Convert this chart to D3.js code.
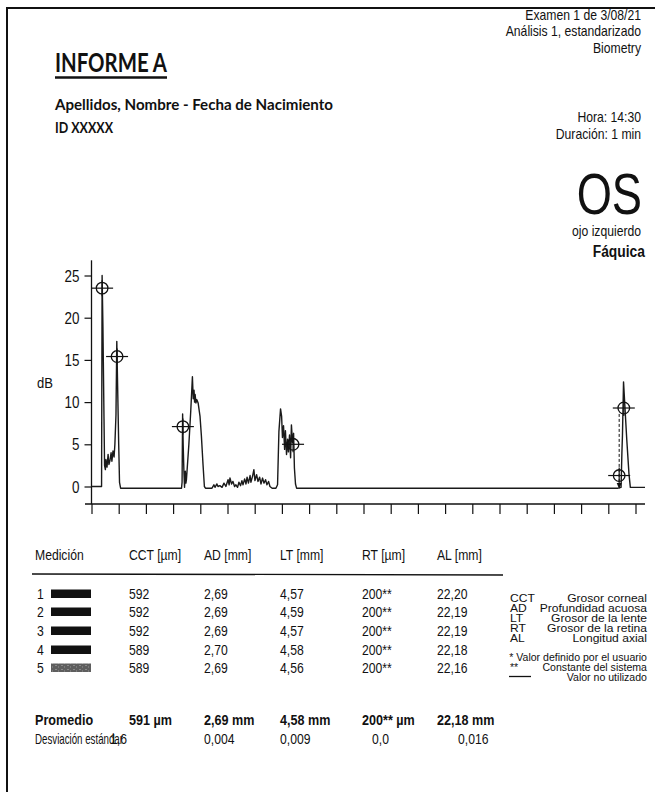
<!DOCTYPE html>
<html>
<head>
<meta charset="utf-8">
<script src="https://cdn.jsdelivr.net/npm/d3@7"></script>
<style>
  html, body { margin: 0; padding: 0; background: #fff; }
  svg { display: block; }
</style>
</head>
<body>
<svg id="report" width="655" height="792"></svg>
<script>
// ---- A-scan echo trace: position in axis divisions, amplitude in dB ----
const scanPos = [
  0.00, 0.37, 0.39, 0.42, 0.46, 0.48, 0.51, 0.53, 0.57, 0.61, 0.64, 0.68, 0.72, 0.75, 0.79, 0.83, 0.86, 0.90, 0.93, 0.96, 1.00, 1.03, 1.07,
  3.31, 3.33, 3.35, 3.37, 3.40, 3.42, 3.45, 3.47, 3.49, 3.58, 3.65, 3.71, 3.74, 3.77, 3.79, 3.81, 3.84, 3.87, 3.92, 3.99, 4.04, 4.10, 4.15, 4.19,
  4.43, 4.50, 4.54, 4.61, 4.65, 4.72, 4.80, 4.87, 4.94, 5.02, 5.06, 5.09, 5.15, 5.20, 5.26, 5.31, 5.37, 5.42, 5.48, 5.53, 5.57, 5.63, 5.68,
  5.72, 5.77, 5.83, 5.86, 5.92, 5.97, 6.01, 6.07, 6.12, 6.18, 6.23, 6.29, 6.34, 6.40, 6.45, 6.51, 6.56, 6.64, 6.78,
  6.84, 6.89, 6.95, 6.99, 7.02, 7.06, 7.10, 7.13, 7.17, 7.21, 7.24, 7.28, 7.32, 7.35, 7.39, 7.43, 7.46, 7.50, 7.54,
  19.36, 19.47, 19.50, 19.52, 19.56, 19.61, 19.68, 19.76, 19.81, 20.35
];
const scanDb = [
  0, 0, 25.0, 19, 8, 2.5, 2.0, 3.2, 2.3, 3.8, 2.6, 3.1, 4.0, 3.0, 4.2, 3.5, 5.0, 8.5, 17.2, 12, 5, 0.5, -0.2,
  -0.2, 0.5, 8.6, 5, 1.5, -0.1, 1.8, 0.4, 0.8, 5.0, 9.0, 13.0, 10.4, 11.4, 10.0, 10.9, 9.9, 10.3, 9.9, 8.3, 6.0, 2.6, 0, -0.2,
  -0.2, 0.2, -0.1, 0.3, 0.0, 0.1, -0.1, 0.4, 0.0, 0.8, 0.2, 1.0, 0.3, 0.6, 0.0, 0.2, -0.1, 0.5, 0.1, 0.7, 0.2, 0.9, 0.3,
  1.1, 0.4, 1.3, 0.5, 1.2, 2.0, 0.7, 1.4, 0.6, 1.1, 0.3, 1.0, 0.4, 0.8, 0.2, 0.6, 0.0, -0.2, -0.2,
  0.2, 6.5, 9.2, 8.3, 5.8, 7.2, 4.4, 6.6, 3.8, 5.6, 4.1, 6.1, 3.4, 7.3, 5.2, 6.3, 2.2, 0.3, -0.2,
  -0.2, -0.1, 4, 6, 12.4, 9.5, 5.5, 1.5, -0.1, -0.1
];

// ---- Gate markers (cornea, cornea back, lens front, lens back, retina, retina gate) ----
const gatePos = [0.39, 0.94, 3.36, 7.41, 19.57, 19.40];
const gateDb  = [23.5, 15.4, 7.1, 5.0, 9.3, 1.3];
const dashedGatePos = 19.40;
const dashedGateTop = 8.6;

// ---- Axes ----
const yTicks = [0, 5, 10, 15, 20, 25];
const xTicks = [0, 1, 2, 3, 4, 5, 6, 7, 8, 9, 10, 11, 12, 13, 14, 15, 16, 17, 18, 19, 20];

// ---- Measurement table ----
const measurementIds = [1, 2, 3, 4, 5];
const cctValues = [592, 592, 592, 589, 589];
const adValues  = [2.69, 2.69, 2.69, 2.70, 2.69];
const ltValues  = [4.57, 4.59, 4.57, 4.58, 4.56];
const rtValues  = [200, 200, 200, 200, 200];
const alValues  = [22.20, 22.19, 22.19, 22.18, 22.16];
const columnHeaders = ["Medición", "CCT [µm]", "AD [mm]", "LT [mm]", "RT [µm]", "AL [mm]"];
const meanValues = [591, 2.69, 4.58, 200, 22.18];
const meanUnits  = ["µm", "mm", "mm", "µm", "mm"];
const sdValues   = [1.6, 0.004, 0.009, 0.0, 0.016];

// ---- Legend ----
const legendAbbr = ["CCT", "AD", "LT", "RT", "AL"];
const legendDesc = ["Grosor corneal", "Profundidad acuosa", "Grosor de la lente", "Grosor de la retina", "Longitud axial"];

// ---- Header ----
const examLines = ["Examen 1 de 3/08/21", "Análisis 1, estandarizado", "Biometry"];
const timeLines = ["Hora: 14:30", "Duración: 1 min"];

// ---------------------------------------------------------------------------
const svg = d3.select("#report");
const ARIAL = "'Liberation Sans', Arial, Helvetica, sans-serif";
const NARROW = 0.84;
const INK = "#111";

const es = d3.formatLocale({ decimal: ",", thousands: ".", grouping: [3], currency: ["", "€"] });
const f0 = es.format("d"), f1 = es.format(".1f"), f2 = es.format(".2f"), f3 = es.format(".3f");

function label(parent, str, x, y, o = {}) {
  const sx = o.sx ?? NARROW;
  const t = parent.append("text")
    .attr("transform", `translate(${x},${y}) scale(${sx},1)`)
    .attr("text-anchor", o.anchor || "start")
    .attr("font-family", o.family || ARIAL)
    .attr("font-size", o.size || 13)
    .attr("font-weight", o.weight || 400)
    .attr("fill", o.fill || INK)
    .text(str);
  if (o.width) t.attr("textLength", o.width / sx).attr("lengthAdjust", "spacingAndGlyphs");
  return t;
}

// page frame
svg.append("path").attr("d", "M7,792 V8 H655").attr("fill", "none").attr("stroke", "#111").attr("stroke-width", 2);

// ---- header left ----
const head = svg.append("g");
const CAL = "Lato, 'Open Sans', sans-serif";
label(head, "INFORME A", 55, 72, { family: CAL, size: 26, weight: 700, sx: 1, width: 112 });
head.append("line").attr("x1", 55).attr("x2", 167).attr("y1", 77.5).attr("y2", 77.5)
  .attr("stroke", INK).attr("stroke-width", 2.4);
label(head, "Apellidos, Nombre - Fecha de Nacimiento", 55, 110, { family: CAL, size: 16, weight: 700, sx: 1, width: 278 });
label(head, "ID XXXXX", 55, 133, { family: CAL, size: 16, weight: 700, sx: 1, width: 58 });

// ---- header right ----
examLines.forEach((s, i) => label(head, s, 641, 19.5 + i * 16.5, { anchor: "end", size: 14.5 }));
timeLines.forEach((s, i) => label(head, s, 641, 122 + i * 17, { anchor: "end", size: 14.5 }));
label(head, "OS", 642, 213.5, { anchor: "end", size: 58, sx: 0.78 });
label(head, "ojo izquierdo", 641, 236, { anchor: "end", size: 14.5 });
label(head, "Fáquica", 645, 257, { anchor: "end", size: 16.5, weight: 700 });

// ---- A-scan plot ----
const x = d3.scaleLinear().domain([0, 20]).range([91.5, 635.5]);
const y = d3.scaleLinear().domain([0, 25]).range([486.5, 275.5]);
const axisY = 504;
const plot = svg.append("g");

// y axis
plot.append("line").attr("x1", x(0)).attr("x2", x(0)).attr("y1", y(26.8)).attr("y2", axisY)
  .attr("stroke", INK).attr("stroke-width", 1.3);
const yAxis = plot.append("g").attr("transform", `translate(${x(0)},0)`)
  .call(d3.axisLeft(y).tickValues(yTicks).tickSize(7).tickPadding(5).tickFormat(f0));
yAxis.select(".domain").remove();
yAxis.selectAll(".tick line").attr("stroke", INK).attr("stroke-width", 1.2);
yAxis.selectAll(".tick text")
  .attr("font-family", ARIAL).attr("font-size", 16).attr("fill", INK)
  .attr("transform", `translate(${-12 * (1 - NARROW)},0) scale(${NARROW},1)`)
  .attr("dy", "0.35em");
label(plot, "dB", 37, 388, { size: 15.5 });

// x axis
plot.append("line").attr("x1", x(-0.24)).attr("x2", x(20.35)).attr("y1", axisY).attr("y2", axisY)
  .attr("stroke", INK).attr("stroke-width", 1.4);
const xAxis = plot.append("g").attr("transform", `translate(0,${axisY})`)
  .call(d3.axisBottom(x).tickValues(xTicks).tickSize(10).tickFormat(""));
xAxis.select(".domain").remove();
xAxis.selectAll(".tick line").attr("stroke", INK).attr("stroke-width", 1.2);

// echo trace
const idx = d3.range(scanPos.length);
const line = d3.line().x(i => x(scanPos[i])).y(i => y(scanDb[i]));
plot.append("path").attr("d", line(idx)).attr("fill", "none")
  .attr("stroke", "#1a1a1a").attr("stroke-width", 1.4).attr("stroke-linejoin", "round");

// dashed retina gate
plot.append("line").attr("x1", x(dashedGatePos)).attr("x2", x(dashedGatePos))
  .attr("y1", y(dashedGateTop)).attr("y2", y(-0.2))
  .attr("stroke", INK).attr("stroke-width", 1).attr("stroke-dasharray", "3,2");
plot.append("path")
  .attr("d", `M${x(dashedGatePos) - 2.5},${y(0.4)} L${x(dashedGatePos) + 2.5},${y(0.4)} L${x(dashedGatePos)},${y(-0.3)} Z`)
  .attr("fill", INK);

// gate markers: circle with crosshair
const gates = plot.selectAll("g.gate").data(gatePos.map((p, i) => ({ p, db: gateDb[i] })))
  .join("g").attr("class", "gate")
  .attr("transform", d => `translate(${x(d.p)},${y(d.db)})`);
gates.append("circle").attr("r", 5.8).attr("fill", "none").attr("stroke", INK).attr("stroke-width", 1.3);
gates.append("line").attr("x1", -11).attr("x2", 11).attr("stroke", INK).attr("stroke-width", 1.2);
gates.append("line").attr("y1", -8).attr("y2", 8).attr("stroke", INK).attr("stroke-width", 1.2);

// ---- measurement table ----
const tbl = svg.append("g");
const colX = [35, 129, 204, 280, 362, 437];
columnHeaders.forEach((h, i) => label(tbl, h, colX[i], 560, { size: 14.5 }));
tbl.append("line").attr("x1", 32).attr("x2", 503).attr("y1", 574).attr("y2", 575)
  .attr("stroke", INK).attr("stroke-width", 1.3);

const defs = svg.append("defs");
const pat = defs.append("pattern").attr("id", "grain").attr("patternUnits", "userSpaceOnUse")
  .attr("width", 6).attr("height", 4);
pat.append("rect").attr("width", 6).attr("height", 4).attr("fill", "#5e5e5e");
pat.append("rect").attr("x", 1).attr("y", 1).attr("width", 2).attr("height", 1).attr("fill", "#8a8a8a");
pat.append("rect").attr("x", 4).attr("y", 2).attr("width", 1).attr("height", 2).attr("fill", "#7a7a7a");

const rowY = [598.5, 616.5, 635.5, 654.5, 672.5];
measurementIds.forEach((id, r) => {
  const by = rowY[r];
  label(tbl, String(id), 37, by, { size: 14.5 });
  tbl.append("rect").attr("x", 51).attr("y", by - 9).attr("width", 40).attr("height", 8.5)
    .attr("fill", r === 4 ? "url(#grain)" : "#111");
  label(tbl, f0(cctValues[r]), colX[1], by, { size: 14.5 });
  label(tbl, f2(adValues[r]), colX[2], by, { size: 14.5 });
  label(tbl, f2(ltValues[r]), colX[3], by, { size: 14.5 });
  label(tbl, f0(rtValues[r]) + "**", colX[4], by, { size: 14.5 });
  label(tbl, f2(alValues[r]), colX[5], by, { size: 14.5 });
});

// mean row
label(tbl, "Promedio", 35, 725, { size: 15, weight: 700 });
const meanFmt = [f0, f2, f2, v => f0(v) + "**", f2];
meanValues.forEach((v, i) => label(tbl, meanFmt[i](v) + " " + meanUnits[i], colX[i + 1], 725, { size: 15, weight: 700 }));

// standard deviation row (the CCT value prints over the end of its caption)
label(tbl, "Desviación estándar", 35, 744, { size: 14.5, width: 88 });
const sdFmt = [f1, f3, f3, f1, f3];
const sdX = [110, 204, 280, 372, 458];
sdValues.forEach((v, i) => label(tbl, sdFmt[i](v), sdX[i], 744, { size: 14.5 }));

// ---- legend ----
const leg = svg.append("g");
const legY = [601.5, 611.5, 621.5, 631.5, 641.5];
const LS = { size: 11.5, sx: 1.05 };
const NS = { size: 11.5, sx: 0.92 };
legendAbbr.forEach((a, i) => {
  label(leg, a, 510, legY[i], LS);
  label(leg, legendDesc[i], 647, legY[i], { ...LS, anchor: "end" });
});
label(leg, "* Valor definido por el usuario", 647, 660.5, { ...NS, anchor: "end" });
label(leg, "**", 510, 670.5, NS);
label(leg, "Constante del sistema", 647, 670.5, { ...NS, anchor: "end" });
leg.append("line").attr("x1", 509).attr("x2", 531).attr("y1", 676.5).attr("y2", 676.5)
  .attr("stroke", INK).attr("stroke-width", 1.3);
label(leg, "Valor no utilizado", 647, 680.5, { ...NS, anchor: "end" });
</script>
</body>
</html>
